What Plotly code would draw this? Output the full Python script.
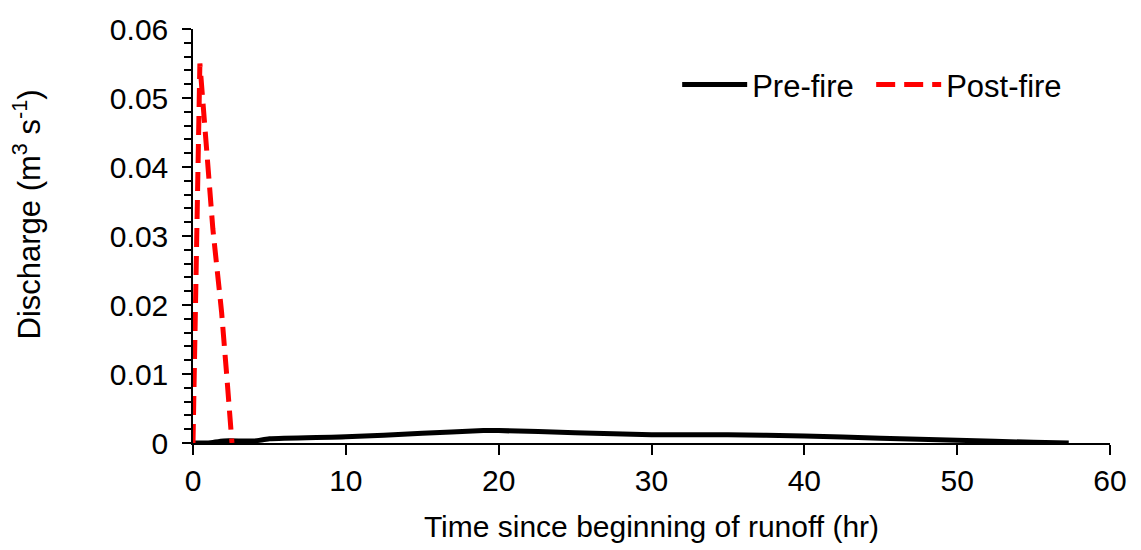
import plotly.graph_objects as go

# Pre-fire hydrograph (time in hr, discharge in m3/s)
pre_time = [0, 1, 2, 4, 5, 10, 15, 19, 20, 25, 30, 35, 40, 45, 50, 55, 57.3]
pre_q = [0, 0, 0.0003, 0.0003, 0.0006, 0.0009, 0.0014, 0.0018, 0.0018,
         0.0015, 0.0012, 0.0012, 0.001, 0.0007, 0.0004, 0.0001, 0]

# Post-fire hydrograph
post_time = [0, 0.45, 1.3, 1.87, 2.2, 2.55]
post_q = [0, 0.055, 0.031, 0.019, 0.01, 0]

# Axis ticks
x_ticks = [0, 10, 20, 30, 40, 50, 60]
y_ticks = [0, 0.01, 0.02, 0.03, 0.04, 0.05, 0.06]
y_labels = ["0", "0.01", "0.02", "0.03", "0.04", "0.05", "0.06"]

FONT = "Liberation Sans, Arial, sans-serif"

fig = go.Figure()
fig.add_trace(go.Scatter(
    x=pre_time, y=pre_q, mode="lines", name="Pre-fire",
    line=dict(color="black", width=5, shape="spline", smoothing=0.6),
))
fig.add_trace(go.Scatter(
    x=post_time, y=post_q, mode="lines", name="Post-fire",
    line=dict(color="#ff0000", width=5, dash="19px,9px"),
))

fig.update_layout(
    width=1141, height=550,
    margin=dict(l=193, r=31, t=21, b=107),
    paper_bgcolor="white", plot_bgcolor="white",
    font=dict(family=FONT, size=30, color="black"),
    showlegend=True,
    legend=dict(
        orientation="h", x=0.528, y=0.865, xanchor="left", yanchor="middle",
        bgcolor="rgba(0,0,0,0)", font=dict(size=31), itemwidth=65,
        traceorder="normal", entrywidth=114, entrywidthmode="pixels",
    ),
    xaxis=dict(
        range=[0, 60], tickvals=x_ticks,
        showline=True, linecolor="black", linewidth=1.5,
        ticks="outside", ticklen=10, tickwidth=1.5, tickcolor="black",
        showgrid=False, zeroline=False,
        title=dict(text="Time since beginning of runoff (hr)", standoff=20,
                   font=dict(size=30)),
    ),
    yaxis=dict(
        range=[0, 0.06], tickvals=y_ticks, ticktext=y_labels,
        ticklabelstandoff=8,
        showline=True, linecolor="black", linewidth=1.5,
        ticks="outside", ticklen=9, tickwidth=1.5, tickcolor="black",
        minor=dict(dtick=0.002, ticks="outside", ticklen=7, tickwidth=1.5,
                   tickcolor="black", showgrid=False),
        showgrid=False, zeroline=False,
    ),
    annotations=[dict(
        text="Discharge (m<sup>3</sup> s<sup>-1</sup>)",
        xref="paper", yref="paper", x=-0.181, y=0.552,
        xanchor="center", yanchor="middle", textangle=-90,
        showarrow=False, font=dict(size=31),
    )],
)

fig.write_html("out.html")
